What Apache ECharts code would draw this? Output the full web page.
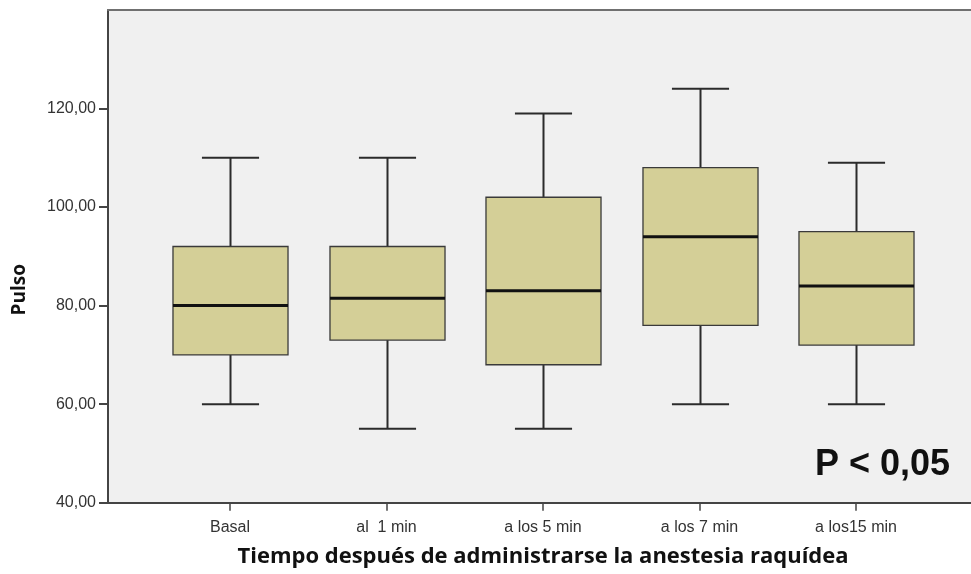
<!DOCTYPE html>
<html>
<head>
<meta charset="utf-8">
<script src="https://cdn.jsdelivr.net/npm/echarts@6/dist/echarts.min.js"></script>
<style>
  html, body { margin: 0; padding: 0; background: #ffffff; }
  #chart { width: 971px; height: 574px; }
</style>
</head>
<body>
<div id="chart"></div>
<script>
// Pulse (beats/min) before and after spinal anaesthesia: five-number summaries per time point
const categories = ['Basal', 'al  1 min', 'a los 5 min', 'a los 7 min', 'a los15 min'];
const minimum = [60, 55, 55, 60, 60];
const q1      = [70, 73, 68, 76, 72];
const median  = [80, 81.5, 83, 94, 84];
const q3      = [92, 92, 102, 108, 95];
const maximum = [110, 110, 119, 124, 109];
const yTicks  = [40, 60, 80, 100, 120];
const yMin = 40, yMax = 140;

const boxData = categories.map((c, i) => [i, minimum[i], q1[i], median[i], q3[i], maximum[i]]);

const fmt = v => v.toFixed(2).replace('.', ',');

const chart = echarts.init(document.getElementById('chart'), null, { renderer: 'canvas' });

const lineCol = '#2b2b2b';

function renderBox(params, api) {
  const i = api.value(0);
  const lo = api.coord([i, api.value(1)]);
  const a = api.coord([i, api.value(2)]);
  const md = api.coord([i, api.value(3)]);
  const b = api.coord([i, api.value(4)]);
  const hi = api.coord([i, api.value(5)]);
  const band = api.size([1, 0])[0];
  const bw = band * 0.735;
  const cw = band * 0.365;
  const cx = Math.round(lo[0]) + 0.5;
  const ws = { stroke: lineCol, lineWidth: 2 };
  return {
    type: 'group',
    children: [
      { type: 'line', shape: { x1: cx, y1: hi[1], x2: cx, y2: b[1] }, style: ws },
      { type: 'line', shape: { x1: cx, y1: a[1], x2: cx, y2: lo[1] }, style: ws },
      { type: 'line', shape: { x1: cx - cw / 2, y1: hi[1], x2: cx + cw / 2, y2: hi[1] }, style: ws },
      { type: 'line', shape: { x1: cx - cw / 2, y1: lo[1], x2: cx + cw / 2, y2: lo[1] }, style: ws },
      { type: 'rect', shape: { x: cx - bw / 2, y: b[1], width: bw, height: a[1] - b[1] },
        style: { fill: '#d4cf97', stroke: '#3a3a3a', lineWidth: 1.3 } },
      { type: 'line', shape: { x1: cx - bw / 2, y1: md[1], x2: cx + bw / 2, y2: md[1] },
        style: { stroke: '#111111', lineWidth: 3 } }
    ]
  };
}

const plotTop = 10, plotBottom = 71.3;

chart.setOption({
  animation: false,
  backgroundColor: '#ffffff',
  grid: [
    // band layout for the five time points
    { left: 151.75, right: 36.75, top: plotTop, bottom: plotBottom, containLabel: false },
    // shaded plotting area, open on the right
    { left: 108, right: 0, top: plotTop, bottom: plotBottom, containLabel: false,
      show: true, backgroundColor: '#f0f0f0', borderWidth: 0 }
  ],
  xAxis: [
    {
      gridIndex: 0, type: 'category', data: categories, boundaryGap: true,
      axisLine: { show: true, lineStyle: { color: 'rgba(0,0,0,0)' } },
      axisTick: { show: true, alignWithLabel: true, length: 8, lineStyle: { color: '#444', width: 1.5 } },
      axisLabel: { color: '#333', fontFamily: 'Liberation Sans Narrow, Liberation Sans, Arial', fontSize: 16, margin: 17 },
      splitLine: { show: false },
      name: 'Tiempo después de administrarse la anestesia raquídea',
      nameLocation: 'middle', nameGap: 43,
      nameTextStyle: { color: '#111', fontFamily: 'Open Sans, Noto Sans, sans-serif', fontWeight: 'bold', fontSize: 22 }
    },
    {
      gridIndex: 1, type: 'value', min: 0, max: 1, position: 'bottom',
      axisLine: { show: true, onZero: false, lineStyle: { color: '#444', width: 2 } },
      axisTick: { show: false }, axisLabel: { show: false }, splitLine: { show: false }
    },
    {
      gridIndex: 1, type: 'value', min: 0, max: 1, position: 'top',
      axisLine: { show: true, onZero: false, lineStyle: { color: '#707070', width: 2 } },
      axisTick: { show: false }, axisLabel: { show: false }, splitLine: { show: false }
    }
  ],
  yAxis: [
    { gridIndex: 0, type: 'value', min: yMin, max: yMax, show: false, splitLine: { show: false } },
    {
      gridIndex: 1, type: 'value', min: yMin, max: yMax, interval: 20,
      axisLine: { show: true, onZero: false, lineStyle: { color: '#444', width: 2 } },
      axisTick: { show: true, length: 9, customValues: yTicks, lineStyle: { color: '#444', width: 2 } },
      axisLabel: { show: true, customValues: yTicks, formatter: v => fmt(v), color: '#333',
        fontFamily: 'Liberation Sans, Arial', fontSize: 16, margin: 12 },
      splitLine: { show: false }
    }
  ],
  graphic: [
    { type: 'text', left: 10, top: 264, rotation: Math.PI / 2,
      style: { text: 'Pulso', fill: '#111', font: 'bold 19px "Open Sans", "Noto Sans", sans-serif' } },
    { type: 'text', left: 815, top: 447,
      style: { text: 'P < 0,05', fill: '#111', font: 'bold 36px "Liberation Sans", Arial, sans-serif' } }
  ],
  series: [
    {
      type: 'custom', xAxisIndex: 0, yAxisIndex: 0, clip: false,
      renderItem: renderBox,
      encode: { x: 0, y: [1, 2, 3, 4, 5] },
      data: boxData, z: 5
    }
  ]
});
</script>
</body>
</html>
